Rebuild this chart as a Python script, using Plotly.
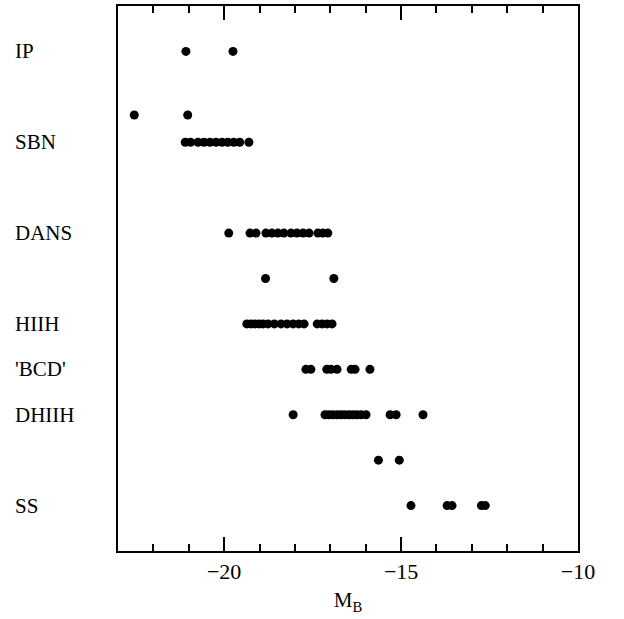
import plotly.graph_objects as go

# Row labels (y positions: 1 = top row)
row_labels = ["IP", "SBN", "DANS", "HIIH", "'BCD'", "DHIIH", "SS"]
row_label_y = [1, 3, 5, 7, 8, 9, 11]

# M_B values per row
ip_mb = [-21.08, -19.75]
row2_mb = [-22.54, -21.03]
sbn_mb = [-21.1, -20.95, -20.74, -20.57, -20.40, -20.23, -20.06, -19.9, -19.73, -19.56, -19.3]
dans_mb = [-19.87, -19.27, -19.1, -18.82, -18.65, -18.48, -18.31, -18.11, -17.94, -17.77, -17.60,
           -17.35, -17.21, -17.07]
row6_mb = [-18.83, -16.9]
hiih_mb = [-19.36, -19.24, -19.13, -19.01, -18.90, -18.76, -18.58, -18.39, -18.22, -18.05, -17.89,
           -17.74, -17.37, -17.23, -17.09, -16.95]
bcd_mb = [-17.69, -17.55, -17.10, -16.98, -16.81, -16.41, -16.30, -15.88]
dhiih_mb = [-18.05, -17.15, -17.04, -16.93, -16.81, -16.70, -16.59, -16.47, -16.36, -16.25, -16.13,
            -15.99, -15.31, -15.14, -14.38]
row10_mb = [-15.64, -15.05]
ss_mb = [-14.72, -13.70, -13.56, -12.73, -12.62]

rows = [(1, ip_mb), (2.4, row2_mb), (3, sbn_mb), (5, dans_mb), (6, row6_mb), (7, hiih_mb),
        (8, bcd_mb), (9, dhiih_mb), (10, row10_mb), (11, ss_mb)]

xs, ys = [], []
for yv, vals in rows:
    xs += vals
    ys += [yv] * len(vals)

fig = go.Figure()
fig.add_trace(go.Scatter(x=xs, y=ys, mode="markers",
                         marker=dict(color="black", size=9, line=dict(width=0)),
                         showlegend=False, hoverinfo="skip"))

L, R, T, B = 118, 46, 4, 68
W, H = 624, 619
pw = W - L - R

for lab, yv in zip(row_labels, row_label_y):
    fig.add_annotation(x=-(L - 13) / pw, xref="paper", y=yv, yref="y", text=lab,
                       showarrow=False, xanchor="left", yanchor="middle",
                       font=dict(family="Liberation Serif", size=21, color="black"))

fig.update_layout(
    width=W, height=H,
    margin=dict(l=L, r=R, t=T, b=B),
    paper_bgcolor="white", plot_bgcolor="white",
    font=dict(family="Liberation Serif", size=21, color="black"),
    xaxis=dict(range=[-23, -10], tickmode="linear", tick0=-20, dtick=5,
               ticks="inside", ticklen=14, tickwidth=1.5, tickcolor="black",
               minor=dict(dtick=1, ticks="inside", ticklen=7, tickwidth=1.5, tickcolor="black"),
               showline=True, linewidth=2, linecolor="black", mirror="ticks",
               showgrid=False, zeroline=False,
               tickfont=dict(family="Liberation Serif", size=22),
               title=dict(text="M<sub>B</sub>", standoff=9,
                          font=dict(family="Liberation Serif", size=21))),
    yaxis=dict(range=[12, 0], showticklabels=False, ticks="",
               showline=True, linewidth=2, linecolor="black", mirror=True,
               showgrid=False, zeroline=False),
)

fig.write_html("out.html", config={"displayModeBar": False},
               post_script="document.body.style.margin='0';")
